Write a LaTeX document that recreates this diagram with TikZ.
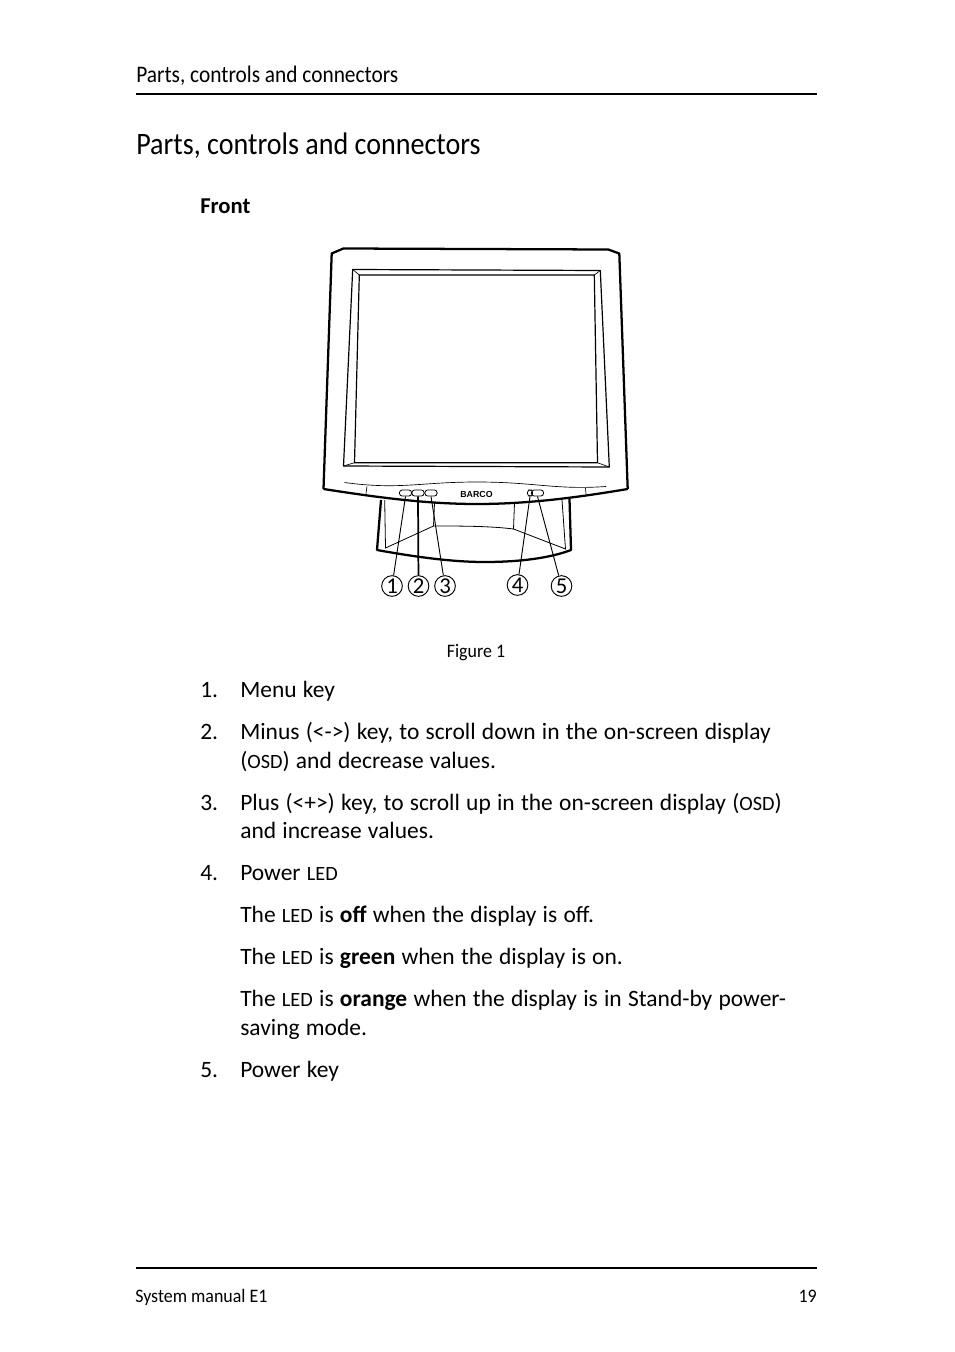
\documentclass[tikz,border=0pt]{standalone}
\usepackage{fontspec}
\setmainfont{Carlito}
\newfontfamily\logofont{Liberation Sans}
\newfontfamily\narrowfont[FakeStretch=0.9]{Carlito}
\newfontfamily\sidefont[FakeStretch=0.94]{Carlito}
\newcommand{\capsize}[1]{{\fontsize{15.2pt}{15pt}\selectfont #1}}
\newcommand{\bodyfont}{\fontsize{17.6pt}{20pt}\selectfont\spaceskip 4.7pt\relax}
\tikzset{
  bodytext/.style={anchor=base west,inner sep=0pt,font=\bodyfont},
  fronttext/.style={anchor=base west,inner sep=0pt,font=\fontsize{17pt}{20pt}\selectfont},
  headtext/.style={anchor=base west,inner sep=0pt,font=\narrowfont\fontsize{17.8pt}{20pt}\selectfont},
  titletext/.style={anchor=base west,inner sep=0pt,font=\narrowfont\fontsize{23.4pt}{26pt}\selectfont},
  smalltext/.style={anchor=base west,inner sep=0pt,font=\sidefont\fontsize{14.3pt}{17pt}\selectfont},
  keybox/.style={draw,rounded corners=2.2pt,line width=0.6pt,inner sep=0pt,minimum height=4.6pt},
  callout/.style={draw,circle,line width=0.7pt,inner sep=0pt,minimum size=15.5pt,font=\fontsize{17pt}{15pt}\selectfont},
  leader/.style={line width=0.7pt}
}
\begin{document}
\begin{tikzpicture}[x=0.75pt,y=0.75pt,yscale=-1,xscale=1]
\useasboundingbox (0,0) rectangle (954,1352);

% Page rules
\draw [line width=1.5pt] (136,94.5) -- (817,94.5);
\draw [line width=1.5pt] (136,1267.5) -- (817,1267.5);

% Monitor housing
\draw [line width=1.7pt,line join=round] (323.5,489) -- (331.7,253.5) -- (343.3,248.5) -- (608.3,249.5) -- (619.3,253.5) -- (627.7,489);
\draw [line width=1.7pt] (323.5,489) .. controls (375,497) and (425,504) .. (477,504) .. controls (530,504) and (580,497) .. (627.7,489);
% Screen bevel
\draw [line width=0.9pt,line join=round] (352.7,269.5) -- (600.3,270.5) -- (609.3,467) -- (343.5,466) -- cycle;
\draw [line width=0.9pt,line join=round] (359.3,275) -- (594.3,275) -- (597.5,462.7) -- (354.5,462.7) -- cycle;
\draw [line width=0.5pt] (352.7,269.5) -- (359.3,275);
\draw [line width=0.5pt] (600.3,270.5) -- (594.3,275);
\draw [line width=0.5pt] (343.5,466) -- (354.5,462.7);
\draw [line width=0.5pt] (609.3,467) -- (597.5,462.7);
% Bezel line
\draw [line width=0.5pt] (344.5,482.5) .. controls (400,490) and (420,482) .. (477,482) .. controls (535,482) and (555,490) .. (606,486.5);
\draw [line width=0.5pt] (367,486.5) -- (366,493.5);
\draw [line width=0.5pt] (585.5,488) -- (586,494);

% Stand
\draw [line width=1.7pt,line join=round] (381,500) -- (377,550) .. controls (410,556) and (450,562) .. (484,562) .. controls (520,562) and (550,558) .. (571,550) -- (569.5,499);
\draw [line width=0.6pt] (384.7,500) -- (385.5,548) -- (433.5,526) -- (434.5,503);
\draw [line width=0.6pt] (562,500) -- (565.5,549) -- (513.5,529) -- (514.5,503);
\draw [line width=0.6pt] (433.5,526) .. controls (460,526) and (490,526) .. (513.5,529);

% Keys and logo
\node (menukey) [keybox,minimum width=9.2pt] at (405.5,493) {};
\node (minuskey) [keybox,minimum width=9.2pt] at (418,493) {};
\node (pluskey) [keybox,minimum width=9.2pt] at (431,493) {};
\node (powerled) [keybox,minimum width=4pt] at (530,493) {};
\node (powerkey) [keybox,minimum width=9.2pt] at (537.5,493) {};
\node (logo) [inner sep=0pt,font=\logofont\bfseries\fontsize{6.6pt}{6pt}\selectfont] at (476.5,494) {BARCO};

% Callouts
\node (one) [callout] at (392,586) {1};
\node (two) [callout] at (418.5,586) {2};
\node (three) [callout] at (445,586) {3};
\node (four) [callout] at (517.5,585) {4};
\node (five) [callout] at (561.5,586) {5};
\draw [leader] (menukey.south) -- (one);
\draw [line width=1.3pt] (minuskey.south) -- (two);
\draw [leader] (pluskey.south) -- (three);
\draw [leader] (powerled.south) -- (four);
\draw [leader] (powerkey.south) -- (five);

% Text Node
\draw (136,83) node (running) [headtext] {Parts, controls and connectors};
\draw (136,155) node (title) [titletext] {Parts, controls and connectors};
\draw (200,214) node (front) [fronttext] {\textbf{Front}};
\draw (476,657) node (figcap) [smalltext,anchor=base] {Figure 1};
\draw (200,697) node (n1) [bodytext] {1.};
\draw (240,697) node (t1) [bodytext] {Menu key};
\draw (200,739) node (n2) [bodytext] {2.};
\draw (240,739) node (t2a) [bodytext] {Minus (<->) key, to scroll down in the on-screen display};
\draw (240,768) node (t2b) [bodytext] {(\capsize{OSD}) and decrease values.};
\draw (200,810) node (n3) [bodytext] {3.};
\draw (240,810) node (t3a) [bodytext] {Plus (<+>) key, to scroll up in the on-screen display (\capsize{OSD})};
\draw (240,838) node (t3b) [bodytext] {and increase values.};
\draw (200,880) node (n4) [bodytext] {4.};
\draw (240,880) node (t4) [bodytext] {Power \capsize{LED}};
\draw (240,922) node (t4a) [bodytext] {The \capsize{LED} is \textbf{off} when the display is off.};
\draw (240,964) node (t4b) [bodytext] {The \capsize{LED} is \textbf{green} when the display is on.};
\draw (240,1006) node (t4c) [bodytext] {The \capsize{LED} is \textbf{orange} when the display is in Stand-by power-};
\draw (240,1035) node (t4d) [bodytext] {saving mode.};
\draw (200,1077) node (n5) [bodytext] {5.};
\draw (240,1077) node (t5) [bodytext] {Power key};
\draw (135,1302) node (footl) [smalltext] {System manual E1};
\draw (817,1302) node (footr) [smalltext,anchor=base east] {19};

\end{tikzpicture}
\end{document}
